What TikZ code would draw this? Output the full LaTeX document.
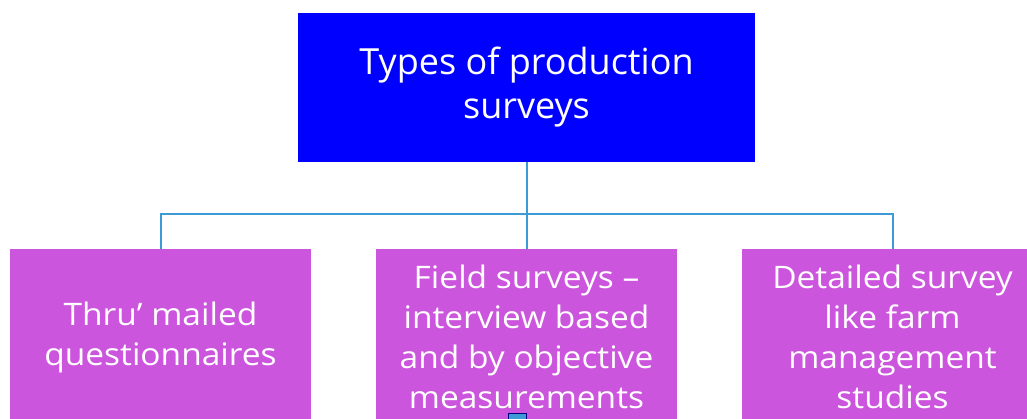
\documentclass[tikz,border=0pt]{standalone}
\usepackage{fontspec}
\setmainfont{Open Sans}
\newfontfamily\leaffont[FakeStretch=1.08]{Open Sans}

\definecolor{topblue}{RGB}{0,0,255}
\definecolor{leafpink}{RGB}{204,85,221}
\definecolor{linkblue}{RGB}{60,154,214}

\tikzset{
	box/.style={rectangle, text=white, align=center, inner sep=0pt},
	head/.style={box, fill=topblue, minimum width=457pt, minimum height=149pt,
		font=\fontsize{36}{44}\selectfont},
	leaf/.style={box, fill=leafpink, minimum width=301pt, minimum height=176pt,
		font=\leaffont\fontsize{31}{40}\selectfont},
	link/.style={draw=linkblue, line width=2pt}
}

\begin{document}
\begin{tikzpicture}[x=1pt, y=-1pt]
	\useasboundingbox (0,0) rectangle (1027,419);
	\clip (0,0) rectangle (1027,419);
	
	% Top box
	\node (head) at (526.5,87.5) [head] {Types of production\\surveys};
	
	% Branch point
	\coordinate (branch) at (526.5,214);
	\draw [link] (head.south) -- (branch);
	
	% Survey boxes
	\foreach \n/\txt in {0/{Thru’ mailed\\questionnaires},
		1/{Field surveys –\\interview based\\and by objective\\measurements},
		2/{Detailed survey\\like farm\\management\\studies}}{
		\node (survey \n) at (160.5 + \n*366,337) [leaf] {\txt};
		
		\draw [link] (branch) -| (survey \n.north);
	}
	
	% Small handle below the middle box
	\node (handle) at (517,422) [draw=blue!50!black, fill=linkblue, line width=1pt, minimum size=18pt, inner sep=0pt] {};
	
\end{tikzpicture}
\end{document}
